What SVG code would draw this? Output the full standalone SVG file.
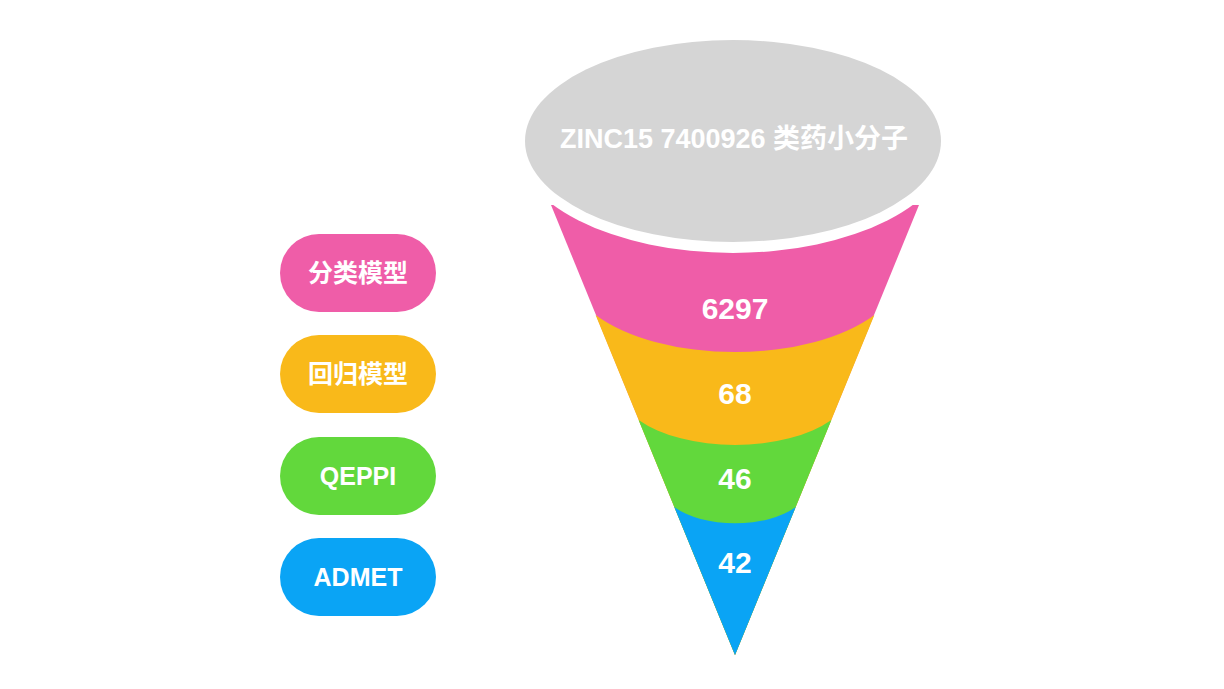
<svg xmlns="http://www.w3.org/2000/svg" width="1224" height="689" viewBox="0 0 1224 689">
  <style>
    .t { font-family: "Liberation Sans", "Noto Sans CJK SC", sans-serif; font-weight: bold; fill: #ffffff; text-anchor: middle; }
    .pill { font-size: 25px; }
    .num { font-size: 30px; }
  </style>
  <rect width="1224" height="689" fill="#ffffff"/>
  <g id="funnel">
    <g id="band-6297">
      <path d="M551,205 L919,205 L735,655 Z" fill="#EF5DA8"/>
    </g>
    <g id="band-68">
      <path d="M595.6,315 A168,84 0 0 0 874.4,315 L735,655 Z" fill="#F9B91A"/>
    </g>
    <g id="band-46">
      <path d="M638.6,420 A118,59 0 0 0 831.4,420 L735,655 Z" fill="#62D83C"/>
    </g>
    <g id="band-42">
      <path d="M674.3,507 A73,36.5 0 0 0 795.7,507 L735,655 Z" fill="#0AA4F5"/>
    </g>
    <text class="t num" x="735" y="319">6297</text>
    <text class="t num" x="735" y="404">68</text>
    <text class="t num" x="735" y="489">46</text>
    <text class="t num" x="735" y="573">42</text>
  </g>
  <g id="source">
    <ellipse cx="733" cy="141" rx="219" ry="112" fill="#ffffff"/>
    <ellipse cx="733" cy="141" rx="208" ry="101" fill="#D5D5D5"/>
    <text class="t" x="734" y="148" font-size="27">ZINC15 7400926 类药小分子</text>
  </g>
  <g id="pill-classify">
    <rect x="280" y="234" width="156" height="78" rx="39" fill="#EF5DA8"/>
    <text class="t pill" x="358" y="282">分类模型</text>
  </g>
  <g id="pill-regress">
    <rect x="280" y="335" width="156" height="78" rx="39" fill="#F9B91A"/>
    <text class="t pill" x="358" y="383">回归模型</text>
  </g>
  <g id="pill-qeppi">
    <rect x="280" y="437" width="156" height="78" rx="39" fill="#62D83C"/>
    <text class="t pill" x="358" y="485">QEPPI</text>
  </g>
  <g id="pill-admet">
    <rect x="280" y="538" width="156" height="78" rx="39" fill="#0AA4F5"/>
    <text class="t pill" x="358" y="586">ADMET</text>
  </g>
  <g id="connectors"/>
</svg>
